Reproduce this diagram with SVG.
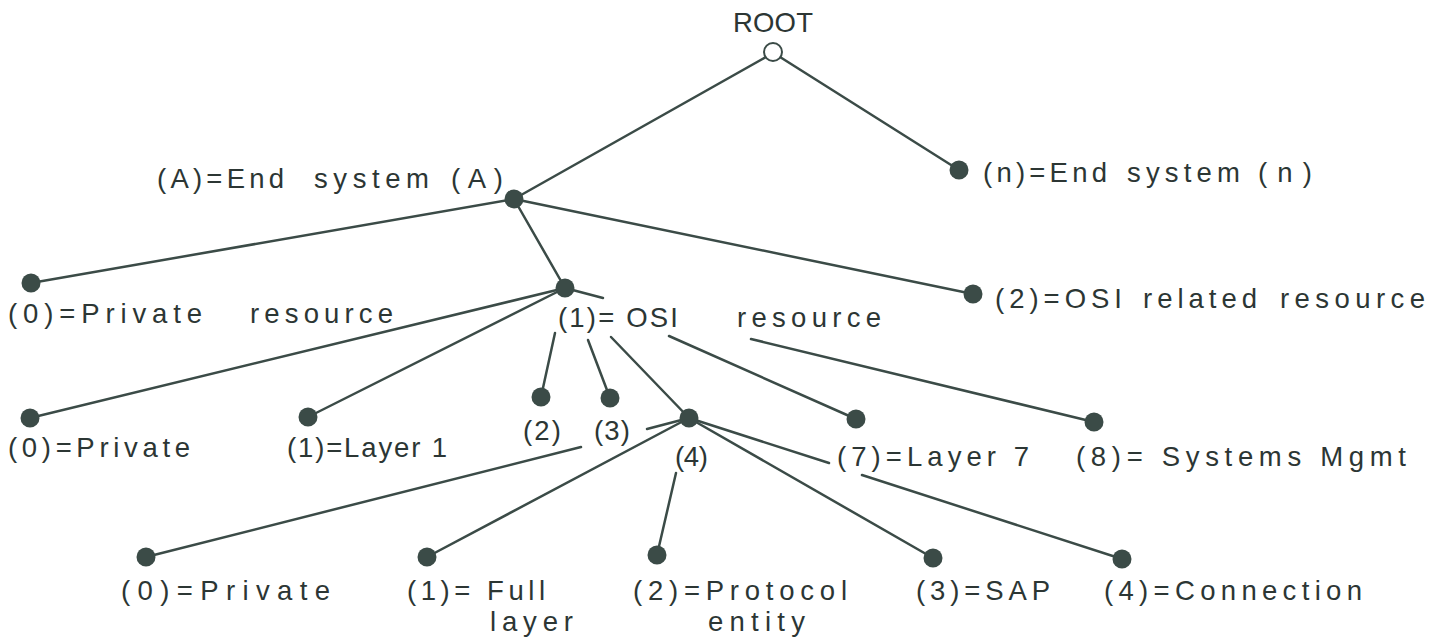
<svg xmlns="http://www.w3.org/2000/svg" width="1445" height="644" viewBox="0 0 1445 644">
<style>
.bg{fill:#ffffff}
.ln{stroke:#3b4b47;stroke-width:2.5;stroke-linecap:round;fill:none}
.nd{fill:#3b4b47}
.rt{fill:#ffffff;stroke:#3b4b47;stroke-width:2}
text{font-family:"Liberation Sans","DejaVu Sans",sans-serif;font-size:27.5px;fill:#2c3634}
</style>
<rect class="bg" x="0" y="0" width="1445" height="644"/>
<g id="connectors">
<line class="ln" x1="766" y1="57" x2="514" y2="199"/>
<line class="ln" x1="780" y1="57" x2="959" y2="170"/>
<line class="ln" x1="514" y1="199" x2="31" y2="283"/>
<line class="ln" x1="514" y1="199" x2="565" y2="288"/>
<line class="ln" x1="514" y1="199" x2="973" y2="294"/>
<line class="ln" x1="565" y1="288" x2="30" y2="418"/>
<line class="ln" x1="565" y1="288" x2="308" y2="417"/>
<line class="ln" x1="565" y1="288" x2="603" y2="298"/>
<line class="ln" x1="555" y1="333" x2="541" y2="397"/>
<line class="ln" x1="588" y1="340" x2="610" y2="398"/>
<line class="ln" x1="611" y1="337" x2="689" y2="418"/>
<line class="ln" x1="669" y1="336" x2="856" y2="419"/>
<line class="ln" x1="751" y1="339" x2="1094" y2="422"/>
<line class="ln" x1="689" y1="418" x2="647" y2="429"/>
<line class="ln" x1="581" y1="447" x2="146" y2="557"/>
<line class="ln" x1="689" y1="418" x2="427" y2="557"/>
<line class="ln" x1="676" y1="473" x2="657" y2="555"/>
<line class="ln" x1="689" y1="418" x2="933" y2="558"/>
<line class="ln" x1="689" y1="418" x2="829" y2="463"/>
<line class="ln" x1="862" y1="475" x2="1122" y2="559"/>
</g>
<g id="root">
<circle class="rt" cx="773" cy="52" r="9"/>
<text x="733" y="32" textLength="80" lengthAdjust="spacing">ROOT</text>
</g>
<g id="endsysA">
<circle class="nd" cx="514" cy="199" r="9.5"/>
<text x="157" y="188" textLength="127" lengthAdjust="spacing">(A)=End</text>
<text x="314" y="188" textLength="115" lengthAdjust="spacing">system</text>
<text x="451" y="188" textLength="52" lengthAdjust="spacing">(A)</text>
</g>
<g id="endsysN">
<circle class="nd" cx="959" cy="170" r="9.5"/>
<text x="983" y="182" textLength="124" lengthAdjust="spacing">(n)=End</text>
<text x="1127" y="182" textLength="113" lengthAdjust="spacing">system</text>
<text x="1258" y="182" textLength="54" lengthAdjust="spacing">(n)</text>
</g>
<g id="privres">
<circle class="nd" cx="31" cy="283" r="9.5"/>
<text x="8" y="323" textLength="194" lengthAdjust="spacing">(0)=Private</text>
<text x="250" y="323" textLength="143" lengthAdjust="spacing">resource</text>
</g>
<g id="osires">
<circle class="nd" cx="565" cy="288" r="9.5"/>
<text x="558" y="327" textLength="120" lengthAdjust="spacing">(1)= OSI</text>
<text x="737" y="327" textLength="144" lengthAdjust="spacing">resource</text>
</g>
<g id="osirel">
<circle class="nd" cx="973" cy="294" r="9.5"/>
<text x="995" y="308" textLength="127" lengthAdjust="spacing">(2)=OSI</text>
<text x="1143" y="308" textLength="114" lengthAdjust="spacing">related</text>
<text x="1280" y="308" textLength="145" lengthAdjust="spacing">resource</text>
</g>
<g id="l2private">
<circle class="nd" cx="30" cy="418" r="9.5"/>
<text x="8" y="457" textLength="182" lengthAdjust="spacing">(0)=Private</text>
</g>
<g id="l2layer1">
<circle class="nd" cx="308" cy="417" r="9.5"/>
<text x="287" y="457" textLength="160" lengthAdjust="spacing">(1)=Layer 1</text>
</g>
<g id="l2n2">
<circle class="nd" cx="541" cy="397" r="9.5"/>
<text x="523" y="440" textLength="38" lengthAdjust="spacing">(2)</text>
</g>
<g id="l2n3">
<circle class="nd" cx="610" cy="398" r="9.5"/>
<text x="594" y="440" textLength="36" lengthAdjust="spacing">(3)</text>
</g>
<g id="l2n4">
<circle class="nd" cx="689" cy="418" r="9.5"/>
<text x="675" y="466" textLength="33" lengthAdjust="spacing">(4)</text>
</g>
<g id="l2layer7">
<circle class="nd" cx="856" cy="419" r="9.5"/>
<text x="837" y="466" textLength="192" lengthAdjust="spacing">(7)=Layer 7</text>
</g>
<g id="l2sysmgmt">
<circle class="nd" cx="1094" cy="422" r="9.5"/>
<text x="1076" y="466" textLength="330" lengthAdjust="spacing">(8)= Systems  Mgmt</text>
</g>
<g id="l3private">
<circle class="nd" cx="146" cy="557" r="9.5"/>
<text x="121" y="600" textLength="209" lengthAdjust="spacing">(0)=Private</text>
</g>
<g id="l3full">
<circle class="nd" cx="427" cy="557" r="9.5"/>
<text x="407" y="600" textLength="138" lengthAdjust="spacing">(1)= Full</text>
<text x="490" y="631" textLength="83" lengthAdjust="spacing">layer</text>
</g>
<g id="l3protocol">
<circle class="nd" cx="657" cy="555" r="9.5"/>
<text x="633" y="600" textLength="214" lengthAdjust="spacing">(2)=Protocol</text>
<text x="708" y="631" textLength="97" lengthAdjust="spacing">entity</text>
</g>
<g id="l3sap">
<circle class="nd" cx="933" cy="558" r="9.5"/>
<text x="916" y="600" textLength="134" lengthAdjust="spacing">(3)=SAP</text>
</g>
<g id="l3conn">
<circle class="nd" cx="1122" cy="559" r="9.5"/>
<text x="1104" y="600" textLength="258" lengthAdjust="spacing">(4)=Connection</text>
</g>
</svg>
